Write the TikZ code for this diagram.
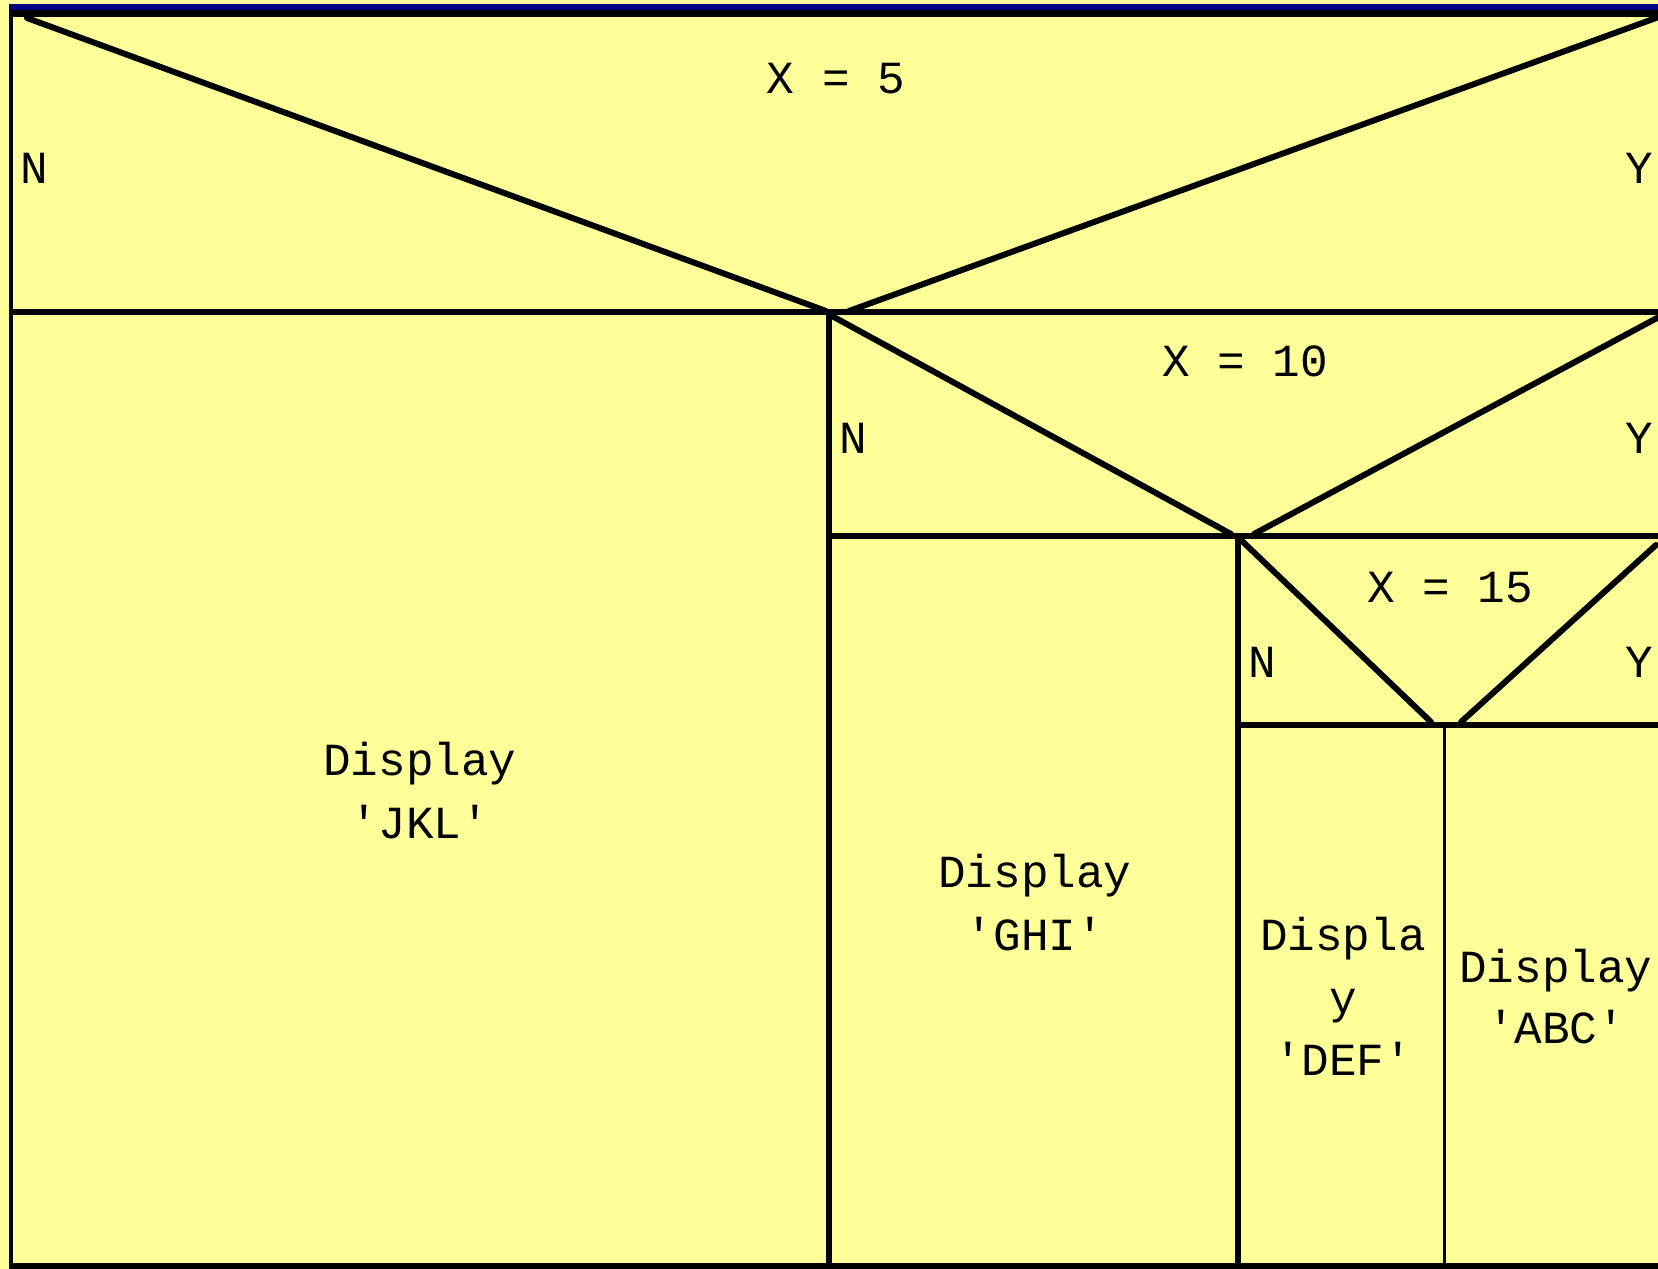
\documentclass[tikz,border=0pt]{standalone}
\usepackage{fontspec}
\setmonofont{Liberation Mono}
\definecolor{nsyellow}{RGB}{255,255,153}
\definecolor{nsnavy}{RGB}{0,0,128}
\begin{document}
\begin{tikzpicture}[x=1pt,y=-1pt,
  thickline/.style={line width=6pt,line cap=butt},
  thinline/.style={line width=3pt},
  diag/.style={line width=6pt,line cap=round},
  lbl/.style={anchor=base,inner sep=0pt,font=\ttfamily\fontsize{46}{63}\selectfont}]
\useasboundingbox (0,0) rectangle (1658,1269);
\fill[nsyellow] (0,0) rectangle (1658,1269);
\fill[nsnavy] (9,4) rectangle (1658,10);
\fill[black] (9,10) rectangle (1658,17);
\fill[black] (9,10) rectangle (13,1269);
\fill[black] (9,1263) rectangle (1658,1269);
% horizontal and vertical dividers
\draw[thickline] (13,312) -- (1658,312);
\draw[thickline] (828.5,309) -- (828.5,1263);
\draw[thickline] (831,536) -- (1658,536);
\draw[thickline] (1237.5,533) -- (1237.5,1263);
\draw[thickline] (1240,725) -- (1658,725);
\draw[thinline] (1444,725) -- (1444,1263);
% diagonals
\draw[diag] (27,18) -- (826,311);
\draw[diag] (849,311) -- (1656,18);
\draw[diag] (832,316) -- (1231,534);
\draw[diag] (1254,534) -- (1657,318);
\draw[diag] (1241,540) -- (1431,722);
\draw[diag] (1461,722) -- (1656,545);
% texts
\node[lbl] (x5) at (836,93) {X = 5};
\node[lbl] (n1) at (34,183) {N};
\node[lbl] (y1) at (1639,183) {Y};
\node[lbl] (x10) at (1245,376) {X = 10};
\node[lbl] (n2) at (853,453) {N};
\node[lbl] (y2) at (1639,453) {Y};
\node[lbl] (x15) at (1450,602) {X = 15};
\node[lbl] (n3) at (1262,677) {N};
\node[lbl] (y3) at (1639.5,677) {Y};
\node[lbl] (jklA) at (420,775) {Display};
\node[lbl] (jklB) at (420,838) {'JKL'};
\node[lbl] (ghiA) at (1035,887) {Display};
\node[lbl] (ghiB) at (1035,950) {'GHI'};
\node[lbl] (defA) at (1343,950) {Displa};
\node[lbl] (defB) at (1343,1013) {y};
\node[lbl] (defC) at (1343,1075) {'DEF'};
\node[lbl] (abcA) at (1556,982) {Display};
\node[lbl] (abcB) at (1556,1043) {'ABC'};
\end{tikzpicture}
\end{document}
